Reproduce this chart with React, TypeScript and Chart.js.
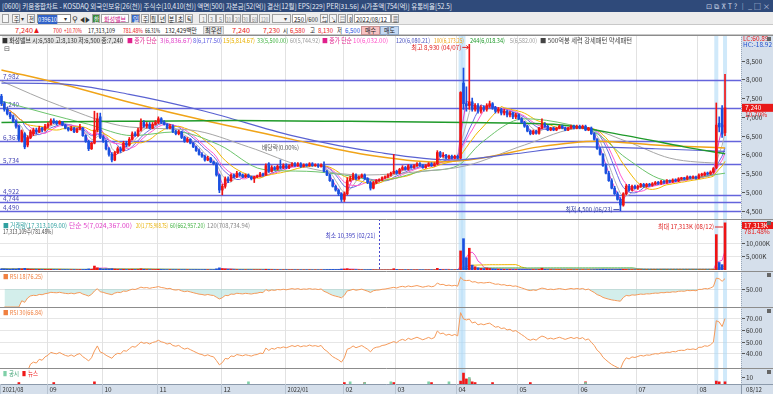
import React, { useEffect, useLayoutEffect, useRef } from "react";
import { Chart, registerables } from "chart.js";
Chart.register(...registerables);

const FONT = '"Noto Sans CJK KR", "Noto Sans", sans-serif';
const AXIS_W = 32;
const SLOTS = 255;
const slotLabels = Array.from({ length: SLOTS }, (_, i) => String(i));

const monthStarts = [0, 16, 35, 54, 76, 98, 118, 136, 157, 178, 199, 219, 240];
const monthLabels = ["2021/08", "09", "10", "11", "12", "2022/01", "02", "03", "04", "05", "06", "07", "08"];

const open = [
  7550,7350,7200,7080,7000,6880,6750,6350,6550,6250,6450,6550,6650,6600,6700,6650,
  6750,6800,6900,6880,6820,6860,6780,6700,6650,6700,6600,6680,6700,6500,6350,6150,6300,6650,7000,
  6450,6350,6150,6000,5850,6050,6150,6100,6300,6250,6400,6550,6500,6650,6850,6750,6800,6700,6800,
  6850,6950,6850,6800,6700,6750,6600,6550,6600,6450,6350,6400,6300,6200,6100,6000,5950,5850,5900,5800,5750,5450,
  5050,5150,5350,5300,5450,5400,5500,5450,5400,5450,5400,5350,5400,5420,5480,5450,5750,5550,5650,5600,5680,5650,
  5700,5650,5700,5750,5700,5750,5680,5720,5700,5750,5700,5720,5680,5700,5550,5450,5300,5150,5050,4950,
  4800,4950,5300,5350,5450,5350,5400,5450,5350,5250,5100,5250,5300,5320,5380,5400,5450,5500,
  5550,5500,5600,5650,5600,5700,5650,5700,5750,5700,5650,5700,5750,5700,5750,6050,5950,5980,5900,5950,5900,
  5950,5900,7900,7350,7300,7400,7200,7300,7150,7250,7200,7300,7350,7250,7150,7200,7100,7150,7050,7100,7000,
  7050,6950,6850,6750,6620,6550,6620,6560,6700,6800,6750,6650,6700,6650,6700,6750,6700,6650,6700,6750,6700,
  6750,6700,6750,6650,6700,6550,6400,6150,6000,5700,5500,5300,5100,4950,4800,4650,4950,5150,5050,5150,
  5100,5150,5200,5150,5200,5180,5220,5250,5230,5280,5260,5300,5280,5320,5300,5350,5360,5350,5400,5380,5400,
  5370,5450,5450,5500,5480,5530,5650,6830,7200,6580,
];
const high = [
  7600,7400,7250,7120,7050,6920,6780,6650,6580,6500,6650,6700,6700,6750,6720,6800,
  6850,6950,6950,6900,6900,6880,6800,6720,6750,6720,6700,6800,6720,6520,6380,6320,7150,7100,7100,
  6500,6380,6180,6050,6080,6200,6200,6350,6350,6450,6600,6600,6700,6950,6900,6850,6850,6850,6900,
  7000,6980,6900,6820,6800,6780,6650,6650,6620,6480,6450,6420,6320,6220,6150,6050,5980,5950,5920,5820,5780,5480,
  5200,5400,5400,5480,5480,5550,5520,5480,5480,5480,5420,5420,5450,5520,5500,5750,5780,5700,5680,5720,5850,5750,
  5750,5720,5780,5780,5780,5780,5750,5750,5780,5780,5750,5750,5750,5800,5580,5480,5330,5180,5080,4980,
  5000,5380,5420,5500,5480,5430,5480,5480,5380,5280,5280,5330,5350,5400,5430,5480,5530,6000,
  5580,5630,5700,5680,5730,5720,5730,5780,5780,5730,5730,5780,5780,5780,6100,6080,6050,6000,5980,5980,5980,
  5980,7670,8300,7800,8930,7500,7350,7350,7300,7300,7350,7420,7380,7280,7250,7230,7200,7180,7150,7130,7100,
  7080,6980,6880,6780,6650,6650,6650,6720,6950,6850,6780,6720,6730,6720,6780,6780,6730,6720,6780,6780,6780,
  6780,6780,6780,6720,6730,6580,6420,6180,6020,5750,5550,5350,5150,5000,4850,4980,5200,5200,5180,5180,
  5180,5230,5230,5230,5230,5250,5280,5280,5310,5300,5330,5320,5350,5350,5380,5390,5390,5430,5420,5430,5420,
  5480,5500,5530,5530,5560,5650,7370,7000,7300,8130,
];
const low = [
  7300,7150,7050,6950,6850,6700,6350,6330,6150,6200,6420,6500,6550,6580,6600,6620,
  6700,6780,6820,6780,6800,6760,6680,6620,6630,6580,6580,6650,6480,6320,6100,6130,6280,6600,6420,
  6320,6120,5950,5800,5830,6020,6050,6080,6200,6220,6380,6480,6480,6620,6720,6700,6680,6680,6780,
  6820,6820,6780,6680,6680,6580,6520,6520,6420,6320,6320,6280,6180,6080,5980,5920,5820,5830,5780,5720,5420,4980,
  4922,5100,5250,5280,5380,5380,5420,5380,5380,5380,5320,5250,5380,5400,5420,5440,5520,5530,5580,5580,5620,5620,
  5620,5620,5680,5680,5680,5650,5660,5680,5680,5680,5680,5650,5660,5530,5430,5280,5130,5020,4900,4744,
  4744,4920,5280,5320,5320,5330,5380,5330,5220,5050,5080,5220,5280,5300,5350,5380,5420,5480,
  5470,5480,5580,5580,5580,5630,5630,5680,5680,5630,5630,5680,5680,5680,5720,5920,5920,5880,5880,5880,5880,
  5880,5880,7200,7150,7200,7150,7150,7100,7100,7150,7150,7250,7200,7100,7100,7050,7050,7000,7000,6950,6950,
  6920,6830,6720,6600,6520,6530,6540,6540,6680,6720,6630,6630,6630,6630,6680,6680,6630,6630,6680,6680,6680,
  6680,6680,6630,6630,6530,6380,6130,5980,5680,5480,5280,5080,4930,4780,4500,4620,4920,5020,5030,5080,
  5070,5120,5120,5120,5150,5150,5190,5200,5200,5230,5230,5250,5250,5270,5270,5320,5320,5320,5350,5350,5340,
  5350,5420,5430,5450,5460,5500,5620,6600,6450,6500,
];
const close = [
  7350,7200,7080,7000,6880,6750,6400,6600,6200,6450,6600,6650,6600,6700,6650,6750,
  6800,6900,6850,6820,6870,6780,6700,6650,6700,6600,6680,6720,6500,6350,6150,6300,6650,6950,6450,
  6350,6150,6000,5850,6050,6150,6100,6300,6250,6400,6550,6500,6650,6850,6750,6800,6700,6800,6850,
  6950,6850,6800,6700,6750,6600,6550,6600,6450,6350,6400,6300,6200,6100,6000,5950,5850,5900,5800,5750,5450,5050,
  5150,5350,5300,5450,5400,5500,5450,5400,5450,5400,5350,5400,5420,5480,5450,5700,5550,5650,5600,5680,5650,5700,
  5650,5700,5750,5700,5750,5680,5720,5700,5750,5700,5720,5680,5720,5550,5450,5300,5150,5050,4950,4800,
  4950,5300,5350,5450,5350,5400,5450,5350,5250,5100,5250,5300,5320,5380,5400,5450,5500,5550,
  5500,5600,5650,5600,5700,5650,5700,5750,5700,5650,5700,5750,5700,5750,6050,5950,5980,5900,5950,5900,5950,
  5900,7650,7350,7300,7400,7200,7300,7150,7250,7200,7300,7350,7250,7150,7200,7100,7150,7050,7100,7000,7050,
  6950,6850,6750,6620,6550,6620,6560,6700,6800,6750,6650,6700,6650,6700,6750,6700,6650,6700,6750,6700,6750,
  6700,6750,6650,6700,6550,6400,6150,6000,5700,5500,5300,5100,4950,4800,4650,4950,5150,5050,5150,5100,
  5150,5200,5150,5200,5180,5220,5250,5230,5280,5260,5300,5280,5320,5300,5350,5360,5350,5400,5380,5400,5370,
  5450,5450,5500,5480,5530,5620,6780,6730,6540,7240,
];
// volume in thousands of shares
const volume = [
  420,380,310,260,350,290,520,380,610,330,240,180,150,210,160,190,
  170,240,150,120,140,110,130,100,95,120,90,140,160,210,380,260,1450,820,560,
  340,420,380,460,310,220,160,230,140,180,260,150,190,420,240,130,110,120,150,
  260,180,120,90,110,100,95,80,110,100,85,90,110,130,120,95,140,90,100,110,420,780,
  520,380,200,180,120,110,90,85,70,80,65,70,60,90,75,260,180,120,90,85,60,70,
  80,60,75,60,55,50,45,60,55,40,45,50,55,120,160,190,220,180,210,340,
  360,480,220,160,120,90,80,70,85,130,75,40,10.395,30,35,40,55,480,
  180,90,80,60,75,60,50,65,55,50,45,60,50,55,620,240,120,90,80,70,75,
  120,7000,11500,4500,8000,1800,1200,800,600,500,700,550,400,350,300,280,250,220,200,180,170,
  200,180,190,170,160,140,120,180,650,220,150,120,80,90,100,80,70,65,90,75,70,
  60,70,60,50,90,130,180,220,280,250,210,190,170,200,260,220,160,110,90,80,
  90,80,70,60,55,50,45,40,45,35,40,30,35,30,28,25,30,26,24,22,20,
  25,22,28,30,26,90,13000,2755,1964,17313,
];

// long moving averages: [bar index, value]
const ma33Pts = [[0,7420],[15,7100],[30,6800],[45,6500],[60,6600],[75,6250],[90,5600],[105,5550],[118,5450],[130,5300],[145,5550],[157,5700],[165,6300],[180,6950],[195,6800],[205,6550],[215,5900],[230,5300],[249,5500]];
const ma60Pts = [[0,7950],[20,7300],[44,6730],[65,6650],[85,6200],[105,5650],[125,5450],[145,5550],[160,5700],[180,6250],[200,6700],[215,6350],[230,5900],[249,5745]];
const ma100Pts = [[0,8250],[22,7850],[44,7390],[70,6900],[100,6400],[125,6000],[150,5800],[165,5900],[185,6200],[205,6350],[225,6250],[249,6173]];
const ma120Pts = [[0,7900],[20,7880],[44,7600],[70,7150],[100,6500],[130,6050],[155,5850],[175,6000],[200,6200],[225,6150],[249,6080]];
const ma244Pts = [[0,6850],[40,6880],[80,6900],[120,6880],[160,6850],[190,6800],[215,6500],[235,6200],[249,6018]];

const levelLines = [7982, 7240, 6367, 5734, 4922, 4744, 4490];
const priceTicks = [4500, 5000, 5500, 6000, 6500, 7000, 7500, 8000, 8500];
const volTicks = [5000, 10000];
const rsi18Ticks = [50];
const rsi30Ticks = [40, 50, 60, 70];
const highlightIdx = [158, 159, 246, 249];
const news = [[6,2],[18,2],[32,3],[118,2],[125,2],[135,2],[148,2],[158,4],[159,15],[160,7],[161,7],[162,3],[163,2],[169,2],[182,2],[201,3],[246,4],[247,3],[249,3]];
const notices = [[85,3],[120,3],[125,2],[134,3],[147,3],[154,3],[161,9],[201,2]];

const UP = "#f01414";
const DOWN = "#1a50e0";

function sma(arr: number[], n: number) {
  return arr.map((_, i) => {
    const s = Math.max(0, i - n + 1);
    let sum = 0;
    for (let k = s; k <= i; k++) sum += arr[k];
    return sum / (i - s + 1);
  });
}
function rsi(src: number[], n: number) {
  const out: (number | null)[] = [null];
  let ag = 0, al = 0;
  for (let i = 1; i < src.length; i++) {
    const d = src[i] - src[i - 1];
    const g = Math.max(d, 0), l = Math.max(-d, 0);
    if (i <= n) { ag = (ag * (i - 1) + g) / i; al = (al * (i - 1) + l) / i; }
    else { ag = (ag * (n - 1) + g) / n; al = (al * (n - 1) + l) / n; }
    out.push(al === 0 ? 100 : 100 - 100 / (1 + ag / al));
  }
  return out;
}
function sparse(pts: number[][]) {
  const a: (number | null)[] = new Array(250).fill(null);
  pts.forEach(([i, v]) => (a[i] = v));
  return a;
}
const fmt = (v: number) => v.toLocaleString("en-US");
const cfont = (s = 7) => `${s}px ${FONT}`;

const axisBg = {
  id: "axisBg",
  beforeDraw(chart: any) {
    const { ctx, chartArea, width, height } = chart;
    ctx.save();
    ctx.fillStyle = "#fff";
    ctx.fillRect(0, 0, chartArea.right, height);
    ctx.fillStyle = "#d5dfeb";
    ctx.fillRect(chartArea.right, 0, width - chartArea.right, height);
    ctx.strokeStyle = "#9aa7b8";
    ctx.setLineDash([1, 1]);
    ctx.beginPath();
    ctx.moveTo(chartArea.right + 0.5, 0);
    ctx.lineTo(chartArea.right + 0.5, height);
    ctx.stroke();
    ctx.restore();
  },
};
const rightAxis = {
  id: "rightAxis",
  afterDraw(chart: any, _a: any, opts: any) {
    const { ctx, chartArea, scales } = chart;
    const y = scales.y;
    ctx.save();
    ctx.strokeStyle = "#555";
    ctx.fillStyle = "#333";
    ctx.font = cfont(6.5);
    ctx.textBaseline = "middle";
    ctx.textAlign = "left";
    (opts.ticks || []).forEach((v: number) => {
      const py = Math.round(y.getPixelForValue(v)) + 0.5;
      ctx.beginPath(); ctx.moveTo(chartArea.right + 1, py); ctx.lineTo(chartArea.right + 4, py); ctx.stroke();
      ctx.fillText(opts.fmt(v), chartArea.right + 5, py, 26);
    });
    ctx.restore();
  },
};
const panelFrame = {
  id: "panelFrame",
  beforeDatasetsDraw(chart: any, _a: any, opts: any) {
    const { ctx, chartArea, scales } = chart;
    const x = scales.x, y = scales.y;
    ctx.save();
    if (opts.hgrid) {
      ctx.strokeStyle = "#e6e6e6";
      opts.hgrid.forEach((v: number) => {
        const py = Math.round(y.getPixelForValue(v)) + 0.5;
        ctx.beginPath(); ctx.moveTo(chartArea.left, py); ctx.lineTo(chartArea.right, py); ctx.stroke();
      });
    }
    ctx.fillStyle = "rgba(170,215,245,0.55)";
    highlightIdx.forEach((i) => {
      const px = x.getPixelForValue(i);
      ctx.fillRect(px - 2, chartArea.top, 4, chartArea.bottom - chartArea.top);
    });
    ctx.strokeStyle = "#e2e2e2";
    ctx.lineWidth = 1;
    monthStarts.slice(1).forEach((i) => {
      const px = Math.round(x.getPixelForValue(i) - 1.4) + 0.5;
      ctx.beginPath();
      ctx.moveTo(px, chartArea.top);
      ctx.lineTo(px, chartArea.bottom);
      ctx.stroke();
    });
    ctx.restore();
  },
  afterDraw(chart: any) {
    const { ctx, width } = chart;
    ctx.save();
    ctx.strokeStyle = "#8c8c8c";
    ctx.beginPath();
    ctx.moveTo(0, 0.5);
    ctx.lineTo(width, 0.5);
    ctx.stroke();
    ctx.fillStyle = "#666";
    ctx.fillRect(width - 6, 2, 4, 4);
    ctx.restore();
  },
};

function baseOptions(min: number, max: number, ticks: number[], tickFmt: (v: number) => string, bottom = 0, hgrid: number[] | null = null) {
  return {
    responsive: false,
    animation: false as const,
    maintainAspectRatio: false,
    layout: { padding: { left: 0, top: 0, right: AXIS_W, bottom } },
    plugins: {
      legend: { display: false },
      tooltip: { enabled: false },
      rightAxis: { ticks, fmt: tickFmt },
      panelFrame: { hgrid },
    },
    scales: {
      x: { type: "category", labels: slotLabels, offset: true, display: false, grid: { display: false } },
      y: { min, max, display: false },
    },
  } as any;
}

function Fit(props: { x: number; y: number; w?: number; size?: number; color?: string; style?: any; children: any }) {
  const ref = useRef<HTMLSpanElement>(null);
  const { x, y, w, size = 6.5, color = "#222", style = {}, children } = props;
  useLayoutEffect(() => {
    const el = ref.current;
    if (!el || !w) return;
    el.style.transform = "none";
    const nat = el.getBoundingClientRect().width;
    if (nat > 0) el.style.transform = `scaleX(${w / nat})`;
  });
  return (
    <span
      ref={ref}
      style={{ position: "absolute", left: x, top: y, fontSize: size, lineHeight: `${size + 2}px`, color, whiteSpace: "nowrap", transformOrigin: "0 0", ...style }}
    >
      {children}
    </span>
  );
}

export default function App() {
  const priceRef = useRef<HTMLCanvasElement>(null);
  const volRef = useRef<HTMLCanvasElement>(null);
  const r18Ref = useRef<HTMLCanvasElement>(null);
  const r30Ref = useRef<HTMLCanvasElement>(null);
  const newsRef = useRef<HTMLCanvasElement>(null);

  useEffect(() => {
    const charts: Chart[] = [];
    const candleColors = close.map((c, i) => (c >= open[i] ? UP : DOWN));
    const line = (data: any[], color: string, w = 1, sparseLine = false) => ({
      type: "line", data, borderColor: color, borderWidth: w, pointRadius: 0, spanGaps: true,
      cubicInterpolationMode: sparseLine ? "monotone" : "default", tension: 0, order: 2,
    });

    // PRICE
    const priceAnno = {
      id: "priceAnno",
      beforeDatasetsDraw(chart: any) {
        const { ctx, chartArea, scales } = chart;
        const y = scales.y;
        ctx.save();
        ctx.strokeStyle = "#6464dc";
        ctx.lineWidth = 1.3;
        ctx.fillStyle = "#4646b4";
        ctx.font = cfont(6.5);
        ctx.textBaseline = "bottom";
        levelLines.forEach((v) => {
          const py = Math.round(y.getPixelForValue(v)) + 0.5;
          ctx.beginPath();
          ctx.moveTo(chartArea.left, py);
          ctx.lineTo(chartArea.right, py);
          ctx.stroke();
          ctx.fillText(fmt(v), 3, py - 1, 16);
        });
        ctx.restore();
      },
      afterDatasetsDraw(chart: any) {
        const { ctx, scales } = chart;
        const x = scales.x, y = scales.y;
        ctx.save();
        ctx.font = cfont(6.5);
        ctx.textBaseline = "middle";
        const hx = x.getPixelForValue(161), hy = y.getPixelForValue(8930) + 3;
        ctx.fillStyle = "#e02020";
        ctx.textAlign = "right";
        ctx.fillText("최고 8,930 (04/07)", hx - 8, hy, 50);
        ctx.strokeStyle = "#e02020";
        ctx.beginPath(); ctx.moveTo(hx - 7, hy); ctx.lineTo(hx - 1, hy); ctx.stroke();
        ctx.beginPath(); ctx.moveTo(hx - 3, hy - 2); ctx.lineTo(hx - 1, hy); ctx.lineTo(hx - 3, hy + 2); ctx.stroke();
        const lx = x.getPixelForValue(213), ly = y.getPixelForValue(4500) - 1;
        ctx.fillStyle = "#2c3c9c";
        ctx.fillText("최저 4,500 (06/23)", lx - 8, ly, 47);
        ctx.strokeStyle = "#2c3c9c";
        ctx.beginPath(); ctx.moveTo(lx - 7, ly); ctx.lineTo(lx - 1, ly); ctx.stroke();
        const dx = x.getPixelForValue(96), dy = y.getPixelForValue(6180);
        ctx.fillStyle = "#555";
        ctx.textAlign = "center";
        ctx.fillText("배당락(0.00%)", dx, dy, 37);
        const right = chart.chartArea.right;
        const cy = y.getPixelForValue(7240);
        ctx.fillStyle = "#e81818";
        ctx.fillRect(right + 1, cy - 4, 31, 8);
        ctx.fillStyle = "#fff";
        ctx.textAlign = "left";
        ctx.fillText("7,240", right + 4, cy, 26);
        ctx.fillStyle = "#e81818";
        ctx.fillText("10.70%", right + 4, cy + 7, 26);
        ctx.fillText("LC:60.89", right + 2, 3.5, 28);
        ctx.fillStyle = "#2050d0";
        ctx.fillText("HC:-18.92", right + 2, 9.5, 29);
        ctx.restore();
      },
    };
    charts.push(new Chart(priceRef.current!, {
      type: "bar",
      data: {
        labels: slotLabels,
        datasets: [
          { type: "bar", data: low.map((l, i) => [l, high[i]]), backgroundColor: candleColors, barThickness: 1, grouped: false, order: 0 },
          { type: "bar", data: open.map((o, i) => [o, close[i]]), backgroundColor: candleColors, barThickness: 2, minBarLength: 1, grouped: false, order: 0 },
          line(sparse(ma244Pts), "#1f9a2a", 1.5, true),
          line(sparse(ma120Pts), "#5a62d2", 1.2, true),
          line(sparse(ma100Pts), "#f0a418", 1.5, true),
          line(sparse(ma60Pts), "#a6a6a6", 1, true),
          line(sparse(ma33Pts), "#6cc46c", 1, true),
          line(sma(close, 15), "#f2b800"),
          line(sma(close, 10), "#ff5ccf"),
          line(sma(close, 8), "#6a6ae6"),
          line(sma(close, 5), "#b4b4b4"),
          line(sma(close, 3), "#e040c8"),
        ] as any,
      },
      options: baseOptions(4279, 9180, priceTicks, fmt),
      plugins: [axisBg, panelFrame, priceAnno, rightAxis],
    }));

    // VOLUME
    const volAnno = {
      id: "volAnno",
      afterDatasetsDraw(chart: any) {
        const { ctx, scales, chartArea } = chart;
        const x = scales.x;
        ctx.save();
        ctx.font = cfont(6.5);
        ctx.textBaseline = "middle";
        const mx = Math.round(x.getPixelForValue(130)) + 0.5;
        ctx.strokeStyle = "#4a4ad0";
        ctx.setLineDash([2, 2]);
        ctx.beginPath(); ctx.moveTo(mx, chartArea.top); ctx.lineTo(mx, chartArea.bottom); ctx.stroke();
        ctx.setLineDash([]);
        ctx.fillStyle = "#3c3cc0";
        ctx.textAlign = "right";
        ctx.fillText("최소 10,395 (02/21)", mx - 4, 17, 50);
        const bx = x.getPixelForValue(249);
        ctx.fillStyle = "#e02020";
        ctx.fillText("최대 17,313K (08/12)", bx - 11, 8, 56);
        ctx.strokeStyle = "#e02020";
        ctx.beginPath(); ctx.moveTo(bx - 10, 8); ctx.lineTo(bx - 2, 8); ctx.stroke();
        const right = chartArea.right;
        ctx.fillStyle = "#e81818";
        ctx.fillRect(right + 1, 3, 31, 7);
        ctx.fillStyle = "#fff";
        ctx.textAlign = "left";
        ctx.fillText("17,313K", right + 3, 6.5, 27);
        ctx.fillStyle = "#e81818";
        ctx.fillText("781.48%", right + 3, 12.5, 27);
        ctx.restore();
      },
    };
    charts.push(new Chart(volRef.current!, {
      type: "bar",
      data: {
        labels: slotLabels,
        datasets: [
          { type: "bar", data: volume, backgroundColor: candleColors, barThickness: 2, order: 1 },
          line(sma(volume, 120), "#a0a0a0"),
          line(sma(volume, 60), "#3cb43c"),
          line(sma(volume, 20), "#f0b400"),
          line(sma(volume, 5), "#f050d0"),
        ] as any,
      },
      options: baseOptions(0, 18730, volTicks, (v) => fmt(v) + "K", 1, volTicks),
      plugins: [axisBg, panelFrame, volAnno, rightAxis],
    }));

    // RSI
    const rsiChart = (n: number, ticks: number[], min: number, max: number, ref: any, shade: boolean) => {
      const r = rsi(close, n);
      charts.push(new Chart(ref.current!, {
        type: "line",
        data: {
          labels: slotLabels,
          datasets: [
            {
              data: r, borderColor: "#f59a5a", borderWidth: 1, pointRadius: 0,
              fill: shade ? { value: 50, above: "rgba(0,0,0,0)", below: "rgba(110,200,190,0.3)" } : false,
            },
          ] as any,
        },
        options: baseOptions(min, max, ticks, (v) => v.toFixed(2), 0, ticks),
        plugins: [axisBg, panelFrame, rightAxis],
      }));
    };
    rsiChart(18, rsi18Ticks, 0, 100, r18Ref, true);
    rsiChart(30, rsi30Ticks, 27.5, 79.3, r30Ref, false);

    // NEWS + X AXIS
    const xStrip = {
      id: "xStrip",
      afterDraw(chart: any) {
        const { ctx, chartArea, width, height, scales } = chart;
        const x = scales.x;
        const top = chartArea.bottom;
        ctx.save();
        ctx.fillStyle = "#d5dfeb";
        ctx.fillRect(0, top, width, height - top);
        ctx.strokeStyle = "#8c9aab";
        ctx.beginPath(); ctx.moveTo(0, top + 0.5); ctx.lineTo(width, top + 0.5); ctx.stroke();
        ctx.font = cfont(6.5);
        ctx.fillStyle = "#333";
        ctx.textBaseline = "middle";
        ctx.textAlign = "left";
        monthStarts.forEach((i, k) => {
          const px = Math.round(x.getPixelForValue(i) - 1.4) + 0.5;
          ctx.strokeStyle = "#b8c4d2";
          ctx.beginPath(); ctx.moveTo(px, top); ctx.lineTo(px, height); ctx.stroke();
          ctx.fillText(monthLabels[k], Math.max(2, px + 2), top + 5.5, k === 0 || k === 5 ? 21 : 8);
        });
        ctx.strokeStyle = "#8c9aab";
        ctx.beginPath(); ctx.moveTo(chartArea.right + 0.5, top); ctx.lineTo(chartArea.right + 0.5, height); ctx.stroke();
        ctx.fillText("08/12", chartArea.right + 5, top + 5.5, 16);
        ctx.restore();
      },
    };
    charts.push(new Chart(newsRef.current!, {
      type: "bar",
      data: {
        labels: slotLabels,
        datasets: [
          { data: sparse(notices), backgroundColor: "#7fd0a8", barThickness: 2, grouped: false },
          { data: sparse(news), backgroundColor: "#f01818", barThickness: 2, grouped: false },
        ] as any,
      },
      options: baseOptions(0, 22, [10], (v) => String(v), 10),
      plugins: [axisBg, panelFrame, xStrip, rightAxis],
    }));

    return () => charts.forEach((c) => c.destroy());
  }, []);

  const abs = (x: number, y: number, extra: any = {}) => ({ position: "absolute" as const, left: x, top: y, whiteSpace: "nowrap" as const, ...extra });
  const box = (x: number, y: number, w: number, h: number, bg = "#f6f6f6", border = "#a0a0a0") => (
    <span style={abs(x, y, { width: w, height: h, background: bg, border: `1px solid ${border}`, boxSizing: "border-box" })} />
  );
  const btn = (x: number, w: number, s: string, color = "#222", bg = "#f6f6f6", tw = 0) => (
    <React.Fragment key={s + x}>
      {box(x, 14, w, 9, bg)}
      <Fit x={x + (w - (tw || w - 3)) / 2} y={14.5} w={tw || w - 3} size={6.5} color={color}>{s}</Fit>
    </React.Fragment>
  );

  return (
    <div style={{ position: "fixed", left: 0, top: 0, width: 773, height: 394, overflow: "hidden", background: "#fff", fontFamily: FONT }}>
      {/* title bar */}
      <div style={abs(0, 0, { width: 773, height: 12, background: "#2f4a7a" })} />
      <Fit x={2} y={1.5} w={450} size={7} color="#e6ecf6">[0600] 키움종합차트 - KOSDAQ 외국인보유[26(천)] 주식수[10,410(천)] 액면[500] 자본금[52(억)] 결산[12월] EPS[229] PER[31.56] 시가총액[754(억)] 유통비율[52.5]</Fit>
      <Fit x={706} y={1.5} w={64} size={7} color="#c8d2e4">⊡ ⧉ ⊼ T ? ｜ _ □ ×</Fit>
      {/* toolbar */}
      <div style={abs(0, 12, { width: 773, height: 13, background: "#ececec", borderBottom: "1px solid #c8c8c8", boxSizing: "border-box" })} />
      {box(2, 14, 7, 9)}
      {btn(12, 8, "주")}
      <Fit x={21} y={14.5} size={6} color="#333">▾</Fit>
      {btn(27, 8, "전")}
      {box(37, 14, 34, 9, "#fff", "#8a8a8a")}
      <Fit x={38} y={15} w={19} size={6.5} color="#fff" style={{ background: "#3062c8" }}>039610</Fit>
      <Fit x={64} y={14.5} size={6} color="#333">▾</Fit>
      <Fit x={72} y={13.5} size={8} color="#333">⚲</Fit>
      <Fit x={80} y={14.5} w={10} size={6.5} color="#333">◀▶</Fit>
      {btn(92, 8, "한", "#fff", "#3b8a3b")}
      {box(101, 14, 28, 9, "#fff")}
      <Fit x={104} y={14.5} w={22} size={6.5} color="#d0208a">화성밸브</Fit>
      {btn(131, 9, "일", "#fff", "#3a68c8")}
      {btn(141, 8, "주")}
      {btn(149.5, 8, "월")}
      {btn(158, 8, "년")}
      {btn(167.5, 8, "분")}
      {btn(176, 8, "초")}
      {btn(185, 8, "틱")}
      {btn(199, 8, "1", "#888", "#f2f2f2", 3)}
      {btn(207.5, 8, "3", "#888", "#f2f2f2", 3)}
      {btn(216, 8, "5", "#888", "#f2f2f2", 3)}
      {btn(224.5, 8, "10", "#888", "#f2f2f2", 5)}
      {btn(233, 8, "20", "#888", "#f2f2f2", 5)}
      {btn(241.5, 8, "30", "#888", "#f2f2f2", 5)}
      {btn(250, 8, "60", "#888", "#f2f2f2", 5)}
      {btn(258.5, 11, "120", "#888", "#f2f2f2", 7)}
      {box(272, 14, 19, 9, "#f2f2f2")}
      <Fit x={284} y={14.5} size={6} color="#444">▾</Fit>
      {box(292, 14, 14, 9, "#fff")}
      <Fit x={294} y={14.5} w={10} size={6.5}>250</Fit>
      <Fit x={306} y={14.5} w={12} size={6.5} color="#333">/600</Fit>
      {btn(320, 8, "⇆", "#333")}
      {btn(329, 8, "↘", "#333")}
      {btn(338, 8, "▤", "#333")}
      {btn(347, 6, "⚙", "#333")}
      {box(354, 14, 37, 9, "#fff")}
      <Fit x={356} y={14.5} w={31} size={6.5}>2022/08/12</Fit>
      {btn(391, 8, "▦", "#333")}
      {/* quote row */}
      <div style={abs(0, 25, { width: 773, height: 10, background: "#fff", borderBottom: "1px solid #c8c8c8", boxSizing: "border-box" })} />
      <Fit x={15} y={25.5} w={18} color="#e81818">7,240</Fit>
      <Fit x={34} y={25.5} w={5} color="#e81818">▲</Fit>
      <Fit x={53} y={25.5} w={9} color="#e81818">700</Fit>
      <Fit x={64} y={25.5} w={18} color="#e81818">+10.70%</Fit>
      <Fit x={88} y={25.5} w={27}>17,313,109</Fit>
      <Fit x={123} y={25.5} w={20} color="#e81818">781.48%</Fit>
      <Fit x={145} y={25.5} w={15}>66.31%</Fit>
      <Fit x={165} y={25.5} w={32}>132,429백만</Fit>
      {box(203, 26, 21, 8.5, "#e6e6e6", "#c0c0c0")}
      <Fit x={205} y={25.5} w={17}>최우선</Fit>
      <Fit x={232} y={25.5} w={18} color="#e81818">7,240</Fit>
      <Fit x={263} y={25.5} w={17} color="#e81818">7,230</Fit>
      <Fit x={283} y={25.5} w={5}>시</Fit>
      <Fit x={290} y={25.5} w={15} color="#e81818">6,580</Fit>
      <Fit x={310} y={25.5} w={5}>고</Fit>
      <Fit x={318} y={25.5} w={15} color="#e81818">8,130</Fit>
      <Fit x={337} y={25.5} w={5}>저</Fit>
      <Fit x={345} y={25.5} w={15} color="#1a50e0">6,500</Fit>
      {box(361, 26, 19, 8.5, "#f7c2c2", "#c89090")}
      <Fit x={365} y={25.5} w={11}>매수</Fit>
      {box(380, 26, 19, 8.5, "#c6daf4", "#90a8c8")}
      <Fit x={384} y={25.5} w={11}>매도</Fit>

      {/* charts */}
      <div style={abs(0, 35)}><canvas ref={priceRef} width={773} height={184} style={{ display: "block" }} /></div>
      <div style={abs(0, 219)}><canvas ref={volRef} width={773} height={52} style={{ display: "block" }} /></div>
      <div style={abs(0, 271)}><canvas ref={r18Ref} width={773} height={36} style={{ display: "block" }} /></div>
      <div style={abs(0, 307)}><canvas ref={r30Ref} width={773} height={61} style={{ display: "block" }} /></div>
      <div style={abs(0, 368)}><canvas ref={newsRef} width={773} height={26} style={{ display: "block" }} /></div>

      {/* legends */}
      <Fit x={2} y={35.5} w={121} color="#333" style={{ background: "#e4e4e4" }}>■ 화성밸브 시:6,580 고:8,130 저:6,500 종:7,240</Fit>
      <Fit x={127} y={35.5} w={30} color="#e0208c">■ 종가 단순</Fit>
      <Fit x={160} y={35.5} w={32} color="#e040c8">3(6,836.67)</Fit>
      <Fit x={193} y={35.5} w={29} color="#5a5ae0">8(6,177.50)</Fit>
      <Fit x={223} y={35.5} w={32} color="#e8b000">15(5,814.67)</Fit>
      <Fit x={257} y={35.5} w={31} color="#44b444">33(5,500.00)</Fit>
      <Fit x={290} y={35.5} w={30} color="#999">60(5,744.92)</Fit>
      <Fit x={322} y={35.5} w={30} color="#e0208c">■ 종가 단순</Fit>
      <Fit x={353} y={35.5} w={35} color="#ff50c8">10(6,032.00)</Fit>
      <Fit x={396} y={35.5} w={34} color="#4a52c0">120(6,080.21)</Fit>
      <Fit x={434} y={35.5} w={30} color="#f0a418">100(6,173.25)</Fit>
      <Fit x={470} y={35.5} w={35} color="#1f9a2a">244(6,018.34)</Fit>
      <Fit x={510} y={35.5} w={27} color="#999">5(6,582.00)</Fit>
      <Fit x={540} y={35.5} w={92} color="#444">■ 500억봉 세력 강세패턴  약세패턴</Fit>
      <Fit x={4} y={44} size={7} color="#555">⊟</Fit>

      <Fit x={3} y={221} w={64} color="#30a0a0">■ 거래량(17,313,109.00)</Fit>
      <Fit x={69} y={221} w={63} color="#e040c8">단순 5(7,024,367.00)</Fit>
      <Fit x={136} y={221} w={32} color="#e8b000">20(1,775,908.75)</Fit>
      <Fit x={170} y={221} w={35} color="#44b444">60(662,957.20)</Fit>
      <Fit x={207} y={221} w={43} color="#888">120(708,734.94)</Fit>
      <Fit x={3} y={226.5} w={50} color="#444">17,313,109주(781.48%)</Fit>

      <Fit x={3} y={272} w={40} color="#f08040">■ RSI 18(76.25)</Fit>
      <Fit x={3} y={308} w={40} color="#f08040">■ RSI 30(66.84)</Fit>
      <Fit x={3} y={369} w={4} color="#7fd0a8">■</Fit>
      <Fit x={9} y={369} w={10} color="#3aa070">공시</Fit>
      <Fit x={22} y={369} w={4} color="#f01818">■</Fit>
      <Fit x={28} y={369} w={10} color="#f01818">뉴스</Fit>
    </div>
  );
}
